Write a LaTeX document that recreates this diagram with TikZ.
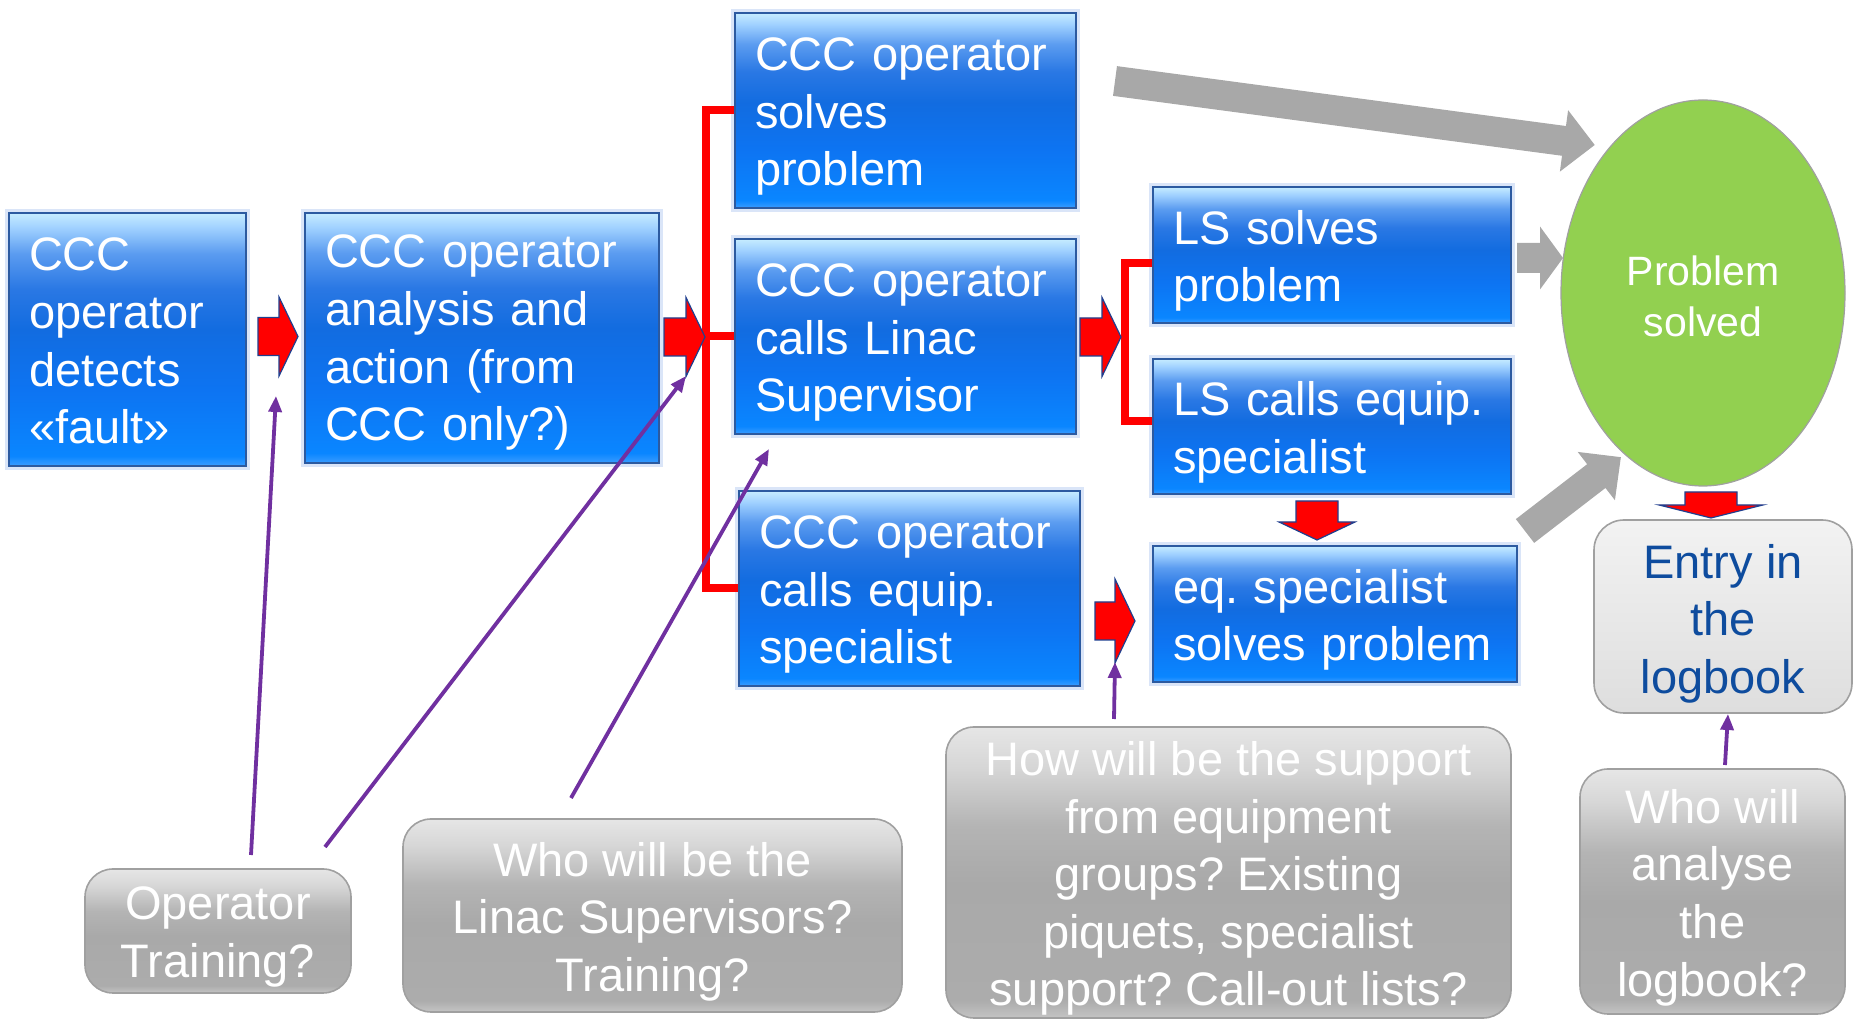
\documentclass[tikz,border=0pt]{standalone}
\usepackage{fontspec}
\setmainfont{Liberation Sans}
\usetikzlibrary{arrows.meta,shapes.geometric}
\frenchspacing

% palette
\definecolor{boxedge}{HTML}{2C5AA0}
\definecolor{halo}{HTML}{DAE5F8}
\definecolor{leaf}{HTML}{92D050}
\definecolor{flowgray}{HTML}{A8A8A8}
\definecolor{qedge}{HTML}{A0A0A0}
\definecolor{askpurple}{HTML}{7030A0}
\definecolor{tipedge}{HTML}{1F3F8F}
\definecolor{logblue}{HTML}{0E4C9E}
\definecolor{bbA}{HTML}{3A9CFF}
\definecolor{bbB}{HTML}{0A86FF}
\definecolor{bbC}{HTML}{0D74F2}
\definecolor{bbD}{HTML}{126CE0}
\definecolor{bbE}{HTML}{2A78E4}
\definecolor{bbF}{HTML}{5B9CF0}
\definecolor{bbG}{HTML}{9FD0FF}
\definecolor{bbH}{HTML}{C6ECFF}
\definecolor{qgA}{HTML}{C4C4C4}
\definecolor{qgB}{HTML}{ACACAC}
\definecolor{qgC}{HTML}{A9A9A9}
\definecolor{qgD}{HTML}{B4B4B4}
\definecolor{qgE}{HTML}{D6D6D6}
\definecolor{qgF}{HTML}{E6E6E6}

% glossy blue bar and grey question panel
\pgfdeclareverticalshading{bluebar}{100bp}{color(0bp)=(bbA); color(25bp)=(bbA);
  color(27bp)=(bbB); color(40bp)=(bbC); color(52bp)=(bbD); color(60bp)=(bbE);
  color(67bp)=(bbF); color(72bp)=(bbG); color(75bp)=(bbH); color(100bp)=(bbH)}
\pgfdeclareverticalshading{graybar}{100bp}{color(0bp)=(qgA); color(25bp)=(qgA);
  color(28bp)=(qgB); color(48bp)=(qgC); color(58bp)=(qgD); color(68bp)=(qgE);
  color(75bp)=(qgF); color(100bp)=(qgF)}

\newcommand\bigfs{\fontsize{23.5pt}{28.8pt}\selectfont}
\newcommand\midfs{\fontsize{20.5pt}{25.5pt}\selectfont}

\tikzset{
  pics/blockarrow/.style n args={4}{code={
    \path[pic actions] (0,{-#2/2}) -- ({#1-#3},{-#2/2}) -- ({#1-#3},{-#4/2})
      -- (#1,0) -- ({#1-#3},{#4/2}) -- ({#1-#3},{#2/2}) -- (0,{#2/2}) -- cycle;
  }},
}

\begin{document}
\begin{tikzpicture}[x=0.5pt,y=-0.5pt,
  bluebox/.style={draw=boxedge, line width=0.9pt, shading=bluebar, inner sep=0pt,
    preaction={draw=halo, line width=4pt}},
  bluetext/.style={text=white, font=\bigfs, align=left, inner sep=0pt, yshift=-3pt},
  qbox/.style={draw=qedge, line width=0.8pt, shading=graybar, rounded corners=14pt,
    inner sep=0pt},
  qtext/.style={text=white, font=\bigfs, align=center, inner sep=0pt, yshift=-3pt},
  entrybox/.style={draw=qedge, line width=0.8pt, top color=white!95!black,
    bottom color=white!87!black, rounded corners=15pt, inner sep=0pt},
  entrytext/.style={text=logblue, font=\bigfs, align=center, inner sep=0pt, yshift=-3.5pt},
  redtip/.style={fill=red, draw=tipedge, line width=0.6pt},
  graytip/.style={fill=flowgray, draw=none},
  bracket/.style={draw=red, line width=4pt},
  ask/.style={draw=askpurple, line width=1.9pt, -{Triangle[length=8pt,width=6.5pt]}},
]
\useasboundingbox (0,0) rectangle (1854,1020);

% grey flows into the result
\pic[graytip, rotate=-7.6] at (1115,81) {blockarrow={484}{30}{31}{62}};
\pic[graytip] at (1517,258) {blockarrow={46}{30}{23}{63}};
\pic[graytip, rotate=37.6] at (1525,531) {blockarrow={121}{30}{31}{61}};

% process steps
\node[bluebox, minimum width=118.5pt, minimum height=126.5pt,
  label={[bluetext, name=detect-t, text width=98.5pt, yshift=2.2pt]center:{CCC\\operator\\detects\\«fault»}}]
  (detect) at (127.5,339.5) {};
\node[bluebox, minimum width=177pt, minimum height=125pt,
  label={[bluetext, name=analyse-t, text width=157pt, yshift=0.6pt]center:{CCC operator\\analysis and\\action (from\\CCC only?)}}]
  (analyse) at (482,338) {};
\node[bluebox, minimum width=170.5pt, minimum height=97.5pt,
  label={[bluetext, name=opsolve-t, text width=150.5pt]center:{CCC operator\\solves\\problem}}]
  (opsolve) at (905.5,110.5) {};
\node[bluebox, minimum width=170.5pt, minimum height=97.5pt,
  label={[bluetext, name=opcallls-t, text width=150.5pt]center:{CCC operator\\calls Linac\\Supervisor}}]
  (opcallls) at (905.5,336.5) {};
\node[bluebox, minimum width=170.5pt, minimum height=97.5pt,
  label={[bluetext, name=opcalleq-t, text width=150.5pt]center:{CCC operator\\calls equip.\\specialist}}]
  (opcalleq) at (909.5,588.5) {};
\node[bluebox, minimum width=179pt, minimum height=68pt,
  label={[bluetext, name=lssolve-t, text width=159pt]center:{LS solves\\problem}}]
  (lssolve) at (1332,255) {};
\node[bluebox, minimum width=179pt, minimum height=67.5pt,
  label={[bluetext, name=lscall-t, text width=159pt]center:{LS calls equip.\\specialist}}]
  (lscall) at (1332,426.5) {};
\node[bluebox, minimum width=182pt, minimum height=68pt,
  label={[bluetext, name=eqsolve-t, text width=162pt]center:{eq. specialist\\solves problem}}]
  (eqsolve) at (1335,614) {};

% result and logbook
\node[ellipse, fill=leaf, draw=qedge, line width=0.6pt, minimum width=142pt,
  minimum height=193pt, inner sep=0pt,
  label={[name=solved-t, text=white, font=\midfs, align=center, inner sep=0pt, yshift=-1.8pt]center:{Problem\\solved}}]
  (solved) at (1703,293) {};
\node[entrybox, minimum width=129pt, minimum height=96.5pt,
  label={[entrytext, name=entry-t]center:{Entry in\\the\\logbook}}]
  (entry) at (1723,616.5) {};

% open questions
\node[qbox, minimum width=133pt, minimum height=62pt,
  label={[qtext, name=optrain-t]center:{Operator\\Training?}}]
  (optrain) at (218,931) {};
\node[qbox, minimum width=249.5pt, minimum height=96.5pt,
  label={[qtext, name=lsquest-t]center:{Who will be the\\Linac Supervisors?\\Training?}}]
  (lsquest) at (652.5,915.5) {};
\node[qbox, minimum width=282.5pt, minimum height=145.5pt,
  label={[qtext, name=supquest-t]center:{How will be the support\\from equipment\\groups? Existing\\piquets, specialist\\support? Call-out lists?}}]
  (supquest) at (1228.5,872.5) {};
\node[qbox, minimum width=132.5pt, minimum height=122.5pt,
  label={[qtext, name=logquest-t]center:{Who will\\analyse\\the\\logbook?}}]
  (logquest) at (1712.5,891.5) {};

% branching brackets
\draw[bracket] (opsolve.west) -- ++(-28,0) |- (opcalleq.west);
\draw[bracket] (opcallls.west) -- ++(-28,0);
\draw[bracket] ([yshift=-4pt]lssolve.west) -- ++(-27,0) |- ([yshift=2.75pt]lscall.west);

% red flow arrows
\pic[redtip] at (258,336.5) {blockarrow={40}{38}{19}{79}};
\pic[redtip] at (664,337) {blockarrow={41}{38}{19}{79}};
\pic[redtip] at (1080,337) {blockarrow={41}{38}{19}{79}};
\pic[redtip] at (1095,621) {blockarrow={40}{38}{20}{84}};
\pic[redtip, rotate=-90] at (1317,501) {blockarrow={39}{42}{18}{76}};
\pic[redtip, rotate=-90] at (1711,492) {blockarrow={26}{52}{13}{104}};

% question pointers
\coordinate (q1s) at (251,855);  \coordinate (q1e) at (276,396);
\coordinate (q2s) at (325,847);  \coordinate (q2e) at (686,376);
\coordinate (q3s) at (571,798);  \coordinate (q3e) at (769,449);
\coordinate (q4s) at (1114,719); \coordinate (q4e) at (1115,662);
\coordinate (q5s) at (1725,765); \coordinate (q5e) at (1728,714);
\draw[ask] (q1s) -- (q1e);
\draw[ask] (q2s) -- (q2e);
\draw[ask] (q3s) -- (q3e);
\draw[ask] (q4s) -- (q4e);
\draw[ask] (q5s) -- (q5e);
\end{tikzpicture}
\end{document}
